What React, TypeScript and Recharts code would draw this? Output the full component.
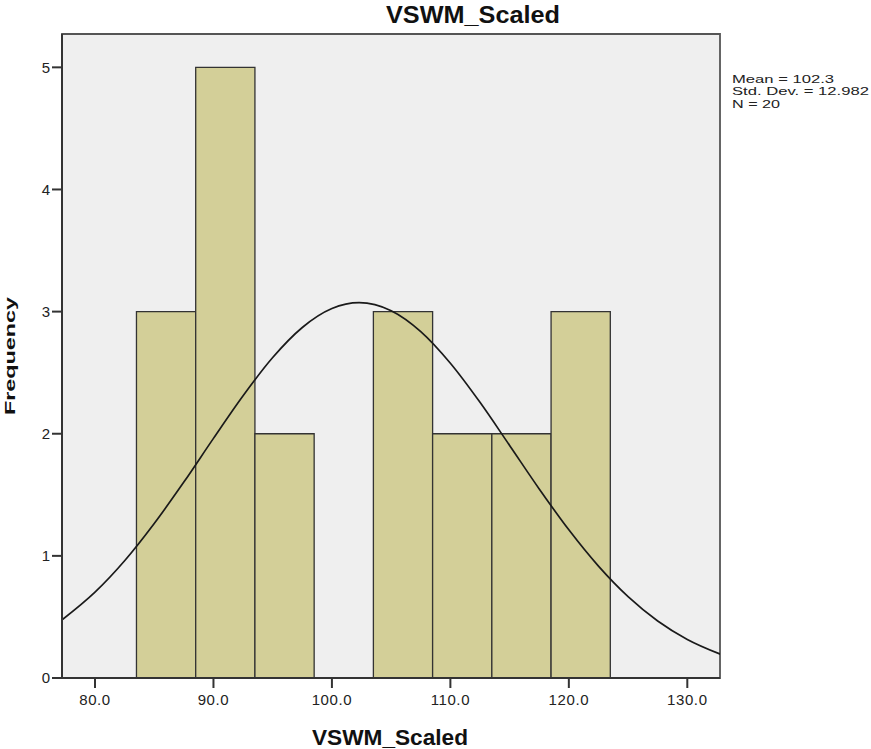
import React from "react";
import { ComposedChart, Line, XAxis, YAxis, ReferenceArea, CartesianGrid } from "recharts";

// Histogram bins (lower edge, upper edge) and frequencies
const binLower = [83.5, 88.5, 93.5, 98.5, 103.5, 108.5, 113.5, 118.5];
const binUpper = [88.5, 93.5, 98.5, 103.5, 108.5, 113.5, 118.5, 123.5];
const binCounts = [3, 5, 2, 0, 3, 2, 2, 3];

// Normal curve points
const curveX = [77.2, 80, 82.5, 85, 87.5, 90, 92.5, 95, 97.5, 100, 102.3, 105, 107.5, 110, 112.5, 115, 117.5, 120, 122.5, 125, 127.5, 130, 132.8];
const curveY = [0.475, 0.703, 0.96, 1.265, 1.604, 1.962, 2.311, 2.624, 2.87, 3.025, 3.073, 3.007, 2.836, 2.577, 2.257, 1.904, 1.548, 1.213, 0.916, 0.666, 0.467, 0.316, 0.195];

const xTicks = [80, 90, 100, 110, 120, 130];
const yTicks = [0, 1, 2, 3, 4, 5];
const X_DOMAIN: [number, number] = [77.214, 132.76];
const Y_DOMAIN: [number, number] = [0, 5.273];

const title = "VSWM_Scaled";
const xLabel = "VSWM_Scaled";
const yLabel = "Frequency";
const statLines = ["Mean = 102.3", "Std. Dev. = 12.982", "N = 20"];

const curveData = curveX.map((x, i) => ({ x, y: curveY[i] }));

const FONT = "'Liberation Sans', Arial, sans-serif";

const XTick = (props: any) => {
  const { x, y, payload } = props;
  return (
    <text x={x} y={y} dy="0.71em" textAnchor="middle" fontFamily={FONT} fontSize={15} fill="#222" letterSpacing={0.6}>
      {Number(payload.value).toFixed(1)}
    </text>
  );
};

const YTick = (props: any) => {
  const { x, y, payload } = props;
  return (
    <text x={x} y={y} dy="0.355em" textAnchor="end" fontFamily={FONT} fontSize={15} fill="#222">
      {payload.value}
    </text>
  );
};

export default function App() {
  return (
    <div style={{ position: "absolute", left: 0, top: 0, width: 871, height: 749, background: "#fff" }}>
      <ComposedChart
        width={871}
        height={749}
        data={curveData}
        margin={{ top: 34, right: 151, bottom: 0, left: 0 }}
      >
        <CartesianGrid fill="#efefef" horizontal={false} vertical={false} />
        <XAxis
          type="number"
          dataKey="x"
          domain={X_DOMAIN}
          ticks={xTicks}
          allowDataOverflow
          height={71}
          tickSize={10}
          tickMargin={6}
          tick={<XTick />}
          axisLine={{ stroke: "#333", strokeWidth: 2 }}
          tickLine={{ stroke: "#333", strokeWidth: 2 }}
        />
        <YAxis
          type="number"
          domain={Y_DOMAIN}
          ticks={yTicks}
          allowDataOverflow
          width={62}
          tickSize={10}
          tickMargin={2}
          tick={<YTick />}
          axisLine={{ stroke: "#333", strokeWidth: 2 }}
          tickLine={{ stroke: "#333", strokeWidth: 2 }}
        />
        {binCounts.map((c, i) =>
          c > 0 ? (
            <ReferenceArea
              key={i}
              x1={binLower[i]}
              x2={binUpper[i]}
              y1={0}
              y2={c}
              fill="#d3cf98"
              fillOpacity={1}
              stroke="#333"
              strokeWidth={1.3}
              ifOverflow="visible"
            />
          ) : null
        )}
        <ReferenceArea
          x1={X_DOMAIN[0]}
          x2={X_DOMAIN[1]}
          y1={Y_DOMAIN[0]}
          y2={Y_DOMAIN[1]}
          fill="none"
          fillOpacity={0}
          stroke="#555"
          strokeWidth={1.8}
          ifOverflow="visible"
        />
        <Line
          type="monotone"
          dataKey="y"
          stroke="#1a1a1a"
          strokeWidth={1.7}
          dot={false}
          activeDot={false}
          isAnimationActive={false}
        />
      </ComposedChart>
      <svg
        width={871}
        height={749}
        style={{ position: "absolute", left: 0, top: 0, pointerEvents: "none" }}
      >
        <text x={386} y={23} fontFamily={FONT} fontWeight="bold" fontSize={24} fill="#111" textLength={174} lengthAdjust="spacingAndGlyphs">
          {title}
        </text>
        <text x={312} y={745} fontFamily={FONT} fontWeight="bold" fontSize={22} fill="#111" textLength={156} lengthAdjust="spacingAndGlyphs">
          {xLabel}
        </text>
        <text
          x={0}
          y={0}
          transform="translate(14.5,415) rotate(-90)"
          fontFamily={FONT}
          fontWeight="bold"
          fontSize={15.5}
          fill="#111"
          textLength={118}
          lengthAdjust="spacingAndGlyphs"
        >
          {yLabel}
        </text>
        {statLines.map((s, i) => (
          <text
            key={i}
            x={732}
            y={82.8 + i * 12.4}
            fontFamily={FONT}
            fontSize={11}
            fill="#222"
            textLength={[102, 137, 48][i]}
            lengthAdjust="spacingAndGlyphs"
          >
            {s}
          </text>
        ))}
      </svg>
    </div>
  );
}
